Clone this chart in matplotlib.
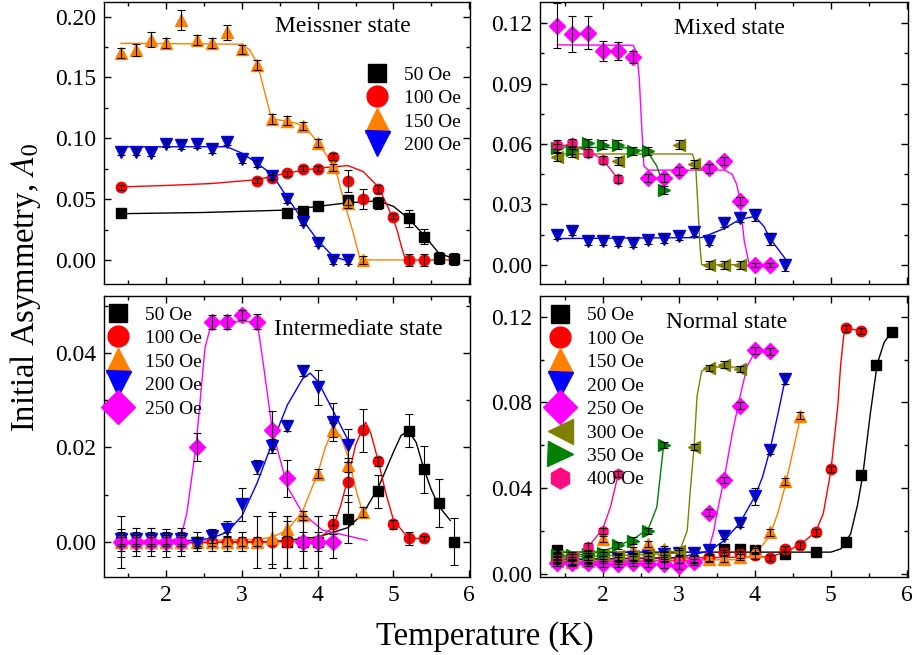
import numpy as np
import matplotlib
matplotlib.use('Agg')
import matplotlib.pyplot as plt
from matplotlib.ticker import MultipleLocator, FormatStrFormatter

plt.rcParams['font.family'] = 'Liberation Serif'
plt.rcParams['mathtext.fontset'] = 'stix'

# colours / markers per field
fields = ['50 Oe', '100 Oe', '150 Oe', '200 Oe', '250 Oe', '300 Oe', '350 Oe', '400 Oe']
colors = ['#000000', '#FF0000', '#FF8000', '#0000FF', '#FF00FF', '#808000', '#008000', '#FF0A80']
markers = ['s', 'o', '^', 'v', 'D', '<', '>', 'h']
msizes = [6.5, 7.5, 9, 9, 8.5, 9, 9, 7.5]

# ---------------- Meissner state (top left) ----------------
T_m50 = [1.4, 3.6, 3.8, 4.0, 4.4, 4.8, 5.2, 5.4, 5.6, 5.8]
A_m50 = [0.0384, 0.0384, 0.0405, 0.0447, 0.0493, 0.0471, 0.0343, 0.0192, 0.0014, 0.0005]
E_m50 = [0.002, 0.002, 0.003, 0.002, 0.004, 0.005, 0.007, 0.006, 0.005, 0.005]
fT_m50 = [1.4, 2.5, 3.6, 4.0, 4.4, 4.8, 5.0, 5.2, 5.4, 5.6, 5.8]
fA_m50 = [0.038, 0.039, 0.041, 0.044, 0.047, 0.0485, 0.044, 0.034, 0.0205, 0.0055, 0.001]

T_m100 = [1.4, 3.2, 3.4, 3.6, 3.8, 4.0, 4.2, 4.4, 4.6, 4.8, 5.0, 5.2, 5.4]
A_m100 = [0.0597, 0.0652, 0.0677, 0.0712, 0.0748, 0.0748, 0.0849, 0.0652, 0.0499, 0.0584, 0.0356, 0.0, 0.0]
E_m100 = [0.002, 0.002, 0.002, 0.002, 0.002, 0.002, 0.003, 0.009, 0.008, 0.003, 0.002, 0.005, 0.005]
fT_m100 = [1.4, 2.0, 2.6, 3.2, 3.6, 4.0, 4.4, 4.6, 4.8, 4.9, 5.0, 5.05, 5.1, 5.16, 5.8]
fA_m100 = [0.060, 0.0612, 0.0628, 0.066, 0.0715, 0.0755, 0.0775, 0.0726, 0.060, 0.047, 0.033, 0.024, 0.012, 0.0, 0.0]

T_m150 = [1.4, 1.6, 1.8, 2.0, 2.2, 2.4, 2.6, 2.8, 3.0, 3.2, 3.4, 3.6, 3.8, 4.0, 4.2, 4.4, 4.6]
A_m150 = [0.170, 0.1726, 0.181, 0.178, 0.197, 0.181, 0.178, 0.187, 0.173, 0.160, 0.1156, 0.1145,
          0.110, 0.096, 0.076, 0.047, 0.0]
E_m150 = [0.004, 0.005, 0.006, 0.004, 0.008, 0.004, 0.004, 0.006, 0.004, 0.004, 0.004, 0.004,
          0.003, 0.003, 0.003, 0.004, 0.003]
fT_m150 = [1.4, 3.0, 3.1, 3.2, 3.28, 3.37, 3.42, 3.55, 3.72, 3.85, 3.99, 4.16, 4.25, 4.34, 4.47, 4.56, 5.8]
fA_m150 = [0.178, 0.1773, 0.1726, 0.1617, 0.1425, 0.1206, 0.1156, 0.1145, 0.1123, 0.1082, 0.0973,
           0.0822, 0.0712, 0.0493, 0.0219, 0.0, 0.0]

T_m200 = [1.4, 1.6, 1.8, 2.0, 2.2, 2.4, 2.6, 2.8, 3.0, 3.2, 3.4, 3.6, 3.8, 4.0, 4.2, 4.4]
A_m200 = [0.089, 0.089, 0.0882, 0.0954, 0.0945, 0.0951, 0.0912, 0.0973, 0.0827, 0.0795, 0.0693,
          0.0499, 0.0315, 0.0142, 0.0, 0.0]
E_m200 = [0.003] * 16
fT_m200 = [1.4, 2.8, 3.0, 3.2, 3.4, 3.6, 3.8, 4.0, 4.2, 4.35]
fA_m200 = [0.093, 0.093, 0.0877, 0.0795, 0.070, 0.051, 0.033, 0.016, 0.003, 0.0]

# ---------------- Mixed state (top right) ----------------
T_x200 = [1.4, 1.6, 1.8, 2.0, 2.2, 2.4, 2.6, 2.8, 3.0, 3.2, 3.4, 3.6, 3.8, 4.0, 4.2, 4.4]
A_x200 = [0.015, 0.0167, 0.012, 0.012, 0.0112, 0.0108, 0.0125, 0.0128, 0.0145, 0.0163, 0.0117,
          0.0205, 0.0233, 0.0245, 0.0128, 0.0]
E_x200 = [0.002] * 13 + [0.003, 0.003, 0.003]
fT_x200 = [1.4, 3.3, 3.4, 3.6, 3.8, 4.0, 4.12, 4.2, 4.34, 4.4]
fA_x200 = [0.013, 0.0135, 0.015, 0.018, 0.0225, 0.024, 0.019, 0.013, 0.006, 0.003]

T_x250 = [1.4, 1.6, 1.8, 2.0, 2.2, 2.4, 2.6, 2.8, 3.0, 3.4, 3.6, 3.8, 4.0, 4.2]
A_x250 = [0.1188, 0.1147, 0.1153, 0.1062, 0.1063, 0.1033, 0.043, 0.043, 0.0467, 0.0478, 0.0517,
          0.0317, 0.0, 0.0]
E_x250 = [0.011, 0.009, 0.008, 0.005, 0.0045, 0.003, 0.002, 0.002, 0.002, 0.002, 0.002, 0.002, 0.001, 0.001]
fT_x250 = [1.4, 2.4, 2.45, 2.48, 2.51, 2.54, 2.6, 3.6, 3.7, 3.76, 3.8, 3.86, 3.92, 4.0, 4.2]
fA_x250 = [0.1092, 0.109, 0.105, 0.092, 0.070, 0.049, 0.047, 0.047, 0.045, 0.040, 0.033, 0.012,
           0.001, 0.0, 0.0]

T_x300 = [1.4, 1.6, 2.2, 3.0, 3.2, 3.4, 3.6, 3.8]
A_x300 = [0.0533, 0.0555, 0.0513, 0.0597, 0.050, 0.0, 0.0, 0.0]
E_x300 = [0.002] * 8
fT_x300 = [1.4, 3.18, 3.22, 3.25, 3.28, 3.3, 3.8]
fA_x300 = [0.055, 0.055, 0.050, 0.030, 0.008, 0.0, 0.0]

T_x350 = [1.4, 1.6, 1.8, 2.0, 2.2, 2.4, 2.6, 2.8]
A_x350 = [0.058, 0.0572, 0.0605, 0.0597, 0.0597, 0.0567, 0.0563, 0.0372]
E_x350 = [0.002] * 8
fT_x350 = [1.4, 2.4, 2.6, 2.71, 2.8]
fA_x350 = [0.0585, 0.058, 0.0555, 0.049, 0.039]

T_x400 = [1.4, 1.6, 1.8, 2.0, 2.2]
A_x400 = [0.0597, 0.0603, 0.0555, 0.0522, 0.0425]
E_x400 = [0.002] * 5
fT_x400 = [1.4, 1.6, 1.8, 1.9, 2.0, 2.1, 2.2]
fA_x400 = [0.0595, 0.059, 0.0565, 0.0545, 0.052, 0.0475, 0.0425]

# ---------------- Intermediate state (bottom left) ----------------
T_i50 = [1.4, 3.6, 3.8, 4.0, 4.4, 4.8, 5.2, 5.4, 5.6, 5.8]
A_i50 = [0.0, 0.0, 0.0, 0.0, 0.0048, 0.0107, 0.0235, 0.0153, 0.0082, 0.0]
E_i50 = [0.0055, 0.0055, 0.0055, 0.0055, 0.005, 0.0035, 0.0035, 0.005, 0.005, 0.005]
fT_i50 = [1.4, 3.4, 4.0, 4.4, 4.6, 4.8, 5.0, 5.1, 5.2, 5.3, 5.4, 5.5, 5.6, 5.75]
fA_i50 = [-0.0003, 0.0, 0.001, 0.003, 0.006, 0.0115, 0.019, 0.0225, 0.0235, 0.021, 0.0155, 0.011,
          0.0075, 0.0045]

T_i100 = [1.4, 1.6, 1.8, 2.0, 2.2, 2.4, 2.6, 2.8, 3.0, 3.2, 3.4, 3.6, 3.8, 4.0,
          4.2, 4.4, 4.6, 4.8, 5.0, 5.2, 5.4]
A_i100 = [-0.0002, 0.0, 0.0, -0.0002, 0.0, 0.0, 0.0, 0.0, 0.0, 0.0, 0.0, 0.0, 0.0, 0.0,
          0.0037, 0.0127, 0.0236, 0.017, 0.0037, 0.0007, 0.0007]
E_i100 = [0.003, 0.003, 0.003, 0.003, 0.003, 0.002, 0.002, 0.002, 0.002, 0.0055, 0.0055, 0.0055,
          0.002, 0.002, 0.002, 0.0042, 0.0046, 0.001, 0.001, 0.0013, 0.0006]
fT_i100 = [1.4, 3.6, 4.0, 4.2, 4.3, 4.4, 4.5, 4.63, 4.7, 4.8, 4.9, 5.0, 5.2, 5.4]
fA_i100 = [-0.0003, 0.0, 0.0006, 0.003, 0.0075, 0.0135, 0.0205, 0.0253, 0.023, 0.017, 0.0102,
           0.0046, 0.0007, 0.0007]

T_i150 = [1.4, 1.6, 1.8, 2.0, 2.2, 2.4, 2.6, 2.8, 3.0, 3.2, 3.4, 3.6, 3.8, 4.0, 4.2, 4.4, 4.6]
A_i150 = [0.0, 0.0, 0.0, 0.0, 0.0, 0.0, 0.0, 0.0, 0.0, 0.0, 0.0008, 0.0028, 0.0056, 0.0144,
          0.0236, 0.0162, 0.0063]
E_i150 = [0.001] * 10 + [0.0055, 0.0015, 0.001, 0.001, 0.0015, 0.0015, 0.001]
fT_i150 = [1.4, 3.2, 3.4, 3.6, 3.8, 4.0, 4.1, 4.2, 4.3, 4.4, 4.52, 4.6]
fA_i150 = [0.0, 0.0005, 0.001, 0.0025, 0.0065, 0.0145, 0.020, 0.0237, 0.0225, 0.018, 0.010, 0.006]

T_i200 = [1.4, 1.6, 1.8, 2.0, 2.2, 2.4, 2.6, 2.8, 3.0, 3.2, 3.4, 3.6, 3.8, 4.0, 4.2, 4.4]
A_i200 = [0.0005, 0.0005, 0.0005, 0.0005, 0.0005, -0.0003, 0.0013, 0.0028, 0.0079, 0.0158, 0.0203,
          0.0245, 0.0361, 0.0327, 0.0254, 0.0204]
E_i200 = [0.001] * 6 + [0.0015, 0.0015, 0.0035, 0.0015, 0.0015, 0.001, 0.001, 0.0037, 0.004, 0.0035]
fT_i200 = [1.4, 2.4, 2.6, 2.8, 3.0, 3.2, 3.4, 3.6, 3.8, 3.9, 4.0, 4.2, 4.4]
fA_i200 = [0.0, 0.0003, 0.0008, 0.002, 0.0055, 0.0125, 0.021, 0.029, 0.0345, 0.0357, 0.034, 0.0278, 0.0215]

T_i250 = [1.4, 1.6, 1.8, 2.0, 2.2, 2.4, 2.6, 2.8, 3.0, 3.2, 3.4, 3.6, 3.8, 4.0, 4.2]
A_i250 = [0.0, 0.0, 0.0, 0.0, 0.0, 0.0201, 0.0465, 0.0465, 0.048, 0.0466, 0.0236, 0.0134, 0.0, 0.0, 0.0]
E_i250 = [0.002, 0.002, 0.002, 0.002, 0.002, 0.003, 0.0015, 0.0015, 0.001, 0.0015, 0.004, 0.004,
          0.0055, 0.0055, 0.0035]
fT_i250 = [1.4, 2.0, 2.1, 2.2, 2.27, 2.39, 2.51, 2.6, 3.2, 3.28, 3.4, 3.6, 3.8, 4.06, 4.65]
fA_i250 = [0.0, 0.0003, 0.0004, 0.0015, 0.006, 0.020, 0.041, 0.0465, 0.0466, 0.0377, 0.0236, 0.0116,
           0.006, 0.0025, 0.0003]

# ---------------- Normal state (bottom right) ----------------
T_n50 = [1.4, 3.6, 3.8, 4.0, 4.4, 4.8, 5.2, 5.4, 5.6, 5.8]
A_n50 = [0.0108, 0.0115, 0.0115, 0.0112, 0.0089, 0.010, 0.0149, 0.0462, 0.0977, 0.113]
E_n50 = [0.0015] * 10
fT_n50 = [1.4, 5.0, 5.13, 5.26, 5.35, 5.42, 5.52, 5.61, 5.7, 5.8]
fA_n50 = [0.010, 0.010, 0.0115, 0.0185, 0.032, 0.046, 0.075, 0.098, 0.108, 0.113]

T_n100 = [1.4, 1.6, 1.8, 2.0, 2.2, 2.4, 2.6, 2.8, 3.0, 3.2, 3.4, 3.6, 3.8, 4.0, 4.2,
          4.4, 4.6, 4.8, 5.0, 5.2, 5.4]
A_n100 = [0.0065, 0.006, 0.0065, 0.0065, 0.006, 0.0065, 0.0065, 0.007, 0.0065, 0.007, 0.0075,
          0.0095, 0.0089, 0.0085, 0.0072, 0.0115, 0.0131, 0.0192, 0.0489, 0.1146, 0.1135]
E_n100 = [0.0015] * 21
fT_n100 = [1.4, 4.2, 4.4, 4.6, 4.8, 4.9, 5.0, 5.09, 5.13, 5.17, 5.2, 5.4]
fA_n100 = [0.0065, 0.0078, 0.010, 0.0135, 0.0195, 0.028, 0.048, 0.078, 0.098, 0.1115, 0.1146, 0.1135]

T_n150 = [1.4, 1.6, 1.8, 2.0, 2.2, 2.4, 2.6, 2.8, 3.0, 3.2, 3.4, 3.6, 3.8, 4.0, 4.2, 4.4, 4.6]
A_n150 = [0.006, 0.0055, 0.006, 0.0162, 0.0075, 0.011, 0.0138, 0.0115, 0.0065, 0.0065, 0.007,
          0.007, 0.0077, 0.0105, 0.0192, 0.0431, 0.0738]
E_n150 = [0.0015] * 17
fT_n150 = [1.4, 3.8, 4.0, 4.2, 4.3, 4.4, 4.5, 4.6]
fA_n150 = [0.0058, 0.0065, 0.0085, 0.018, 0.028, 0.041, 0.057, 0.073]

T_n200 = [1.4, 1.6, 1.8, 2.0, 2.2, 2.4, 2.6, 2.8, 3.0, 3.2, 3.4, 3.6, 3.8, 4.0, 4.2, 4.4]
A_n200 = [0.0065, 0.006, 0.007, 0.0065, 0.007, 0.0075, 0.008, 0.0092, 0.0095, 0.0098, 0.0108,
          0.0177, 0.0234, 0.0362, 0.0577, 0.0908]
E_n200 = [0.0015] * 13 + [0.004, 0.002, 0.002]
fT_n200 = [1.4, 3.0, 3.4, 3.6, 3.8, 4.0, 4.1, 4.2, 4.3, 4.4]
fA_n200 = [0.0065, 0.0075, 0.0105, 0.0155, 0.0235, 0.036, 0.045, 0.058, 0.074, 0.091]

T_n250 = [1.4, 1.6, 1.8, 2.0, 2.2, 2.4, 2.6, 2.8, 3.0, 3.2, 3.4, 3.6, 3.8, 4.0, 4.2]
A_n250 = [0.0049, 0.005, 0.005, 0.0045, 0.0045, 0.005, 0.0045, 0.0043, 0.0034, 0.0054, 0.0285,
          0.0438, 0.0785, 0.1043, 0.1038]
E_n250 = [0.0015] * 15
fT_n250 = [1.4, 3.3, 3.4, 3.46, 3.5, 3.6, 3.7, 3.8, 3.9, 4.0, 4.2]
fA_n250 = [0.0055, 0.006, 0.012, 0.02, 0.028, 0.045, 0.065, 0.082, 0.097, 0.1035, 0.104]

T_n300 = [1.4, 1.6, 1.8, 2.0, 2.2, 2.4, 2.6, 2.8, 3.0, 3.2, 3.4, 3.6, 3.8]
A_n300 = [0.008, 0.0075, 0.008, 0.0085, 0.008, 0.008, 0.0085, 0.0085, 0.0103, 0.0592, 0.0962,
          0.0977, 0.0957]
E_n300 = [0.0015] * 13
fT_n300 = [1.4, 3.0, 3.11, 3.15, 3.2, 3.24, 3.3, 3.4, 3.8]
fA_n300 = [0.0075, 0.0095, 0.020, 0.0385, 0.059, 0.083, 0.0946, 0.0965, 0.0965]

T_n350 = [1.4, 1.6, 1.8, 2.0, 2.2, 2.4, 2.6, 2.8]
A_n350 = [0.0085, 0.0085, 0.009, 0.0098, 0.0131, 0.0154, 0.020, 0.060]
E_n350 = [0.0015] * 8
fT_n350 = [1.4, 1.8, 2.0, 2.2, 2.4, 2.6, 2.71, 2.8]
fA_n350 = [0.008, 0.009, 0.0105, 0.013, 0.016, 0.021, 0.031, 0.060]

T_n400 = [1.4, 1.6, 1.8, 2.0, 2.2]
A_n400 = [0.0069, 0.0077, 0.0126, 0.020, 0.0465]
E_n400 = [0.0015] * 5
fT_n400 = [1.4, 1.6, 1.8, 2.0, 2.1, 2.2]
fA_n400 = [0.006, 0.0075, 0.012, 0.021, 0.031, 0.046]


def series(ax, k, T, A, E, fT, fA):
    ax.plot(fT, fA, color=colors[k], lw=1.0, zorder=2)
    ax.plot(T, A, ls='none', marker=markers[k], ms=msizes[k], color=colors[k],
            mec=colors[k], label=fields[k], zorder=3)
    ax.errorbar(T, A, yerr=E, fmt='none', ecolor='black', elinewidth=0.8,
                capsize=3, capthick=0.8, zorder=4)


def style(ax, ylim, major, minor, xlabels):
    ax.set_xlim(1.18, 6.01)
    ax.set_ylim(*ylim)
    ax.xaxis.set_major_locator(MultipleLocator(1))
    ax.xaxis.set_minor_locator(MultipleLocator(0.5))
    ax.yaxis.set_major_locator(MultipleLocator(major))
    ax.yaxis.set_minor_locator(MultipleLocator(minor))
    ax.yaxis.set_major_formatter(FormatStrFormatter('%.2f'))
    ax.tick_params(which='both', direction='in', top=True, right=True, labelsize=17)
    ax.tick_params(which='major', length=5, width=1)
    ax.tick_params(which='minor', length=3, width=1)
    ax.tick_params(axis='y', pad=6)
    ax.tick_params(axis='x', pad=6)
    if not xlabels:
        ax.tick_params(labelbottom=False)
    for s in ax.spines.values():
        s.set_linewidth(1.0)


def legend(ax, x0, y0):
    ax.legend(loc='upper left', bbox_to_anchor=(x0, y0), frameon=False, fontsize=14,
              markerscale=2.0, handlelength=1.2, handletextpad=0.8, labelspacing=0.3,
              borderpad=0, borderaxespad=0, numpoints=1)


fig = plt.figure(figsize=(9.17, 6.55), dpi=100)
ax_tl = fig.add_axes([0.1137, 0.566, 0.3988, 0.431])
ax_tr = fig.add_axes([0.5894, 0.566, 0.4004, 0.431])
ax_bl = fig.add_axes([0.1137, 0.1195, 0.3988, 0.4285])
ax_br = fig.add_axes([0.5894, 0.1195, 0.4004, 0.4285])

series(ax_tl, 0, T_m50, A_m50, E_m50, fT_m50, fA_m50)
series(ax_tl, 1, T_m100, A_m100, E_m100, fT_m100, fA_m100)
series(ax_tl, 2, T_m150, A_m150, E_m150, fT_m150, fA_m150)
series(ax_tl, 3, T_m200, A_m200, E_m200, fT_m200, fA_m200)
style(ax_tl, (-0.02, 0.212), 0.05, 0.025, False)
legend(ax_tl, 0.713, 0.773)

series(ax_tr, 3, T_x200, A_x200, E_x200, fT_x200, fA_x200)
series(ax_tr, 4, T_x250, A_x250, E_x250, fT_x250, fA_x250)
series(ax_tr, 5, T_x300, A_x300, E_x300, fT_x300, fA_x300)
series(ax_tr, 6, T_x350, A_x350, E_x350, fT_x350, fA_x350)
series(ax_tr, 7, T_x400, A_x400, E_x400, fT_x400, fA_x400)
style(ax_tr, (-0.0097, 0.1305), 0.03, 0.015, False)

series(ax_bl, 0, T_i50, A_i50, E_i50, fT_i50, fA_i50)
series(ax_bl, 1, T_i100, A_i100, E_i100, fT_i100, fA_i100)
series(ax_bl, 2, T_i150, A_i150, E_i150, fT_i150, fA_i150)
series(ax_bl, 3, T_i200, A_i200, E_i200, fT_i200, fA_i200)
series(ax_bl, 4, T_i250, A_i250, E_i250, fT_i250, fA_i250)
style(ax_bl, (-0.0074, 0.052), 0.02, 0.01, True)
legend(ax_bl, 0.0063, 0.964)

series(ax_br, 0, T_n50, A_n50, E_n50, fT_n50, fA_n50)
series(ax_br, 1, T_n100, A_n100, E_n100, fT_n100, fA_n100)
series(ax_br, 2, T_n150, A_n150, E_n150, fT_n150, fA_n150)
series(ax_br, 3, T_n200, A_n200, E_n200, fT_n200, fA_n200)
series(ax_br, 4, T_n250, A_n250, E_n250, fT_n250, fA_n250)
series(ax_br, 5, T_n300, A_n300, E_n300, fT_n300, fA_n300)
series(ax_br, 6, T_n350, A_n350, E_n350, fT_n350, fA_n350)
series(ax_br, 7, T_n400, A_n400, E_n400, fT_n400, fA_n400)
style(ax_br, (-0.0015, 0.1297), 0.04, 0.02, True)
legend(ax_br, 0.0212, 0.962)

fig.text(0.374, 0.9516, 'Meissner state', fontsize=17, ha='center', va='baseline')
fig.text(0.7953, 0.948, 'Mixed state', fontsize=17, ha='center', va='baseline')
fig.text(0.3904, 0.4885, 'Intermediate state', fontsize=17, ha='center', va='baseline')
fig.text(0.7925, 0.4988, 'Normal state', fontsize=17, ha='center', va='baseline')

fig.text(0.529, 0.0153, 'Temperature (K)', fontsize=23.5, ha='center', va='baseline')
fig.text(0.028, 0.562, 'Initial Asymmetry, $A_0$', fontsize=23.5, rotation=90,
         ha='center', va='center')

fig.savefig('out.png', dpi=100)
